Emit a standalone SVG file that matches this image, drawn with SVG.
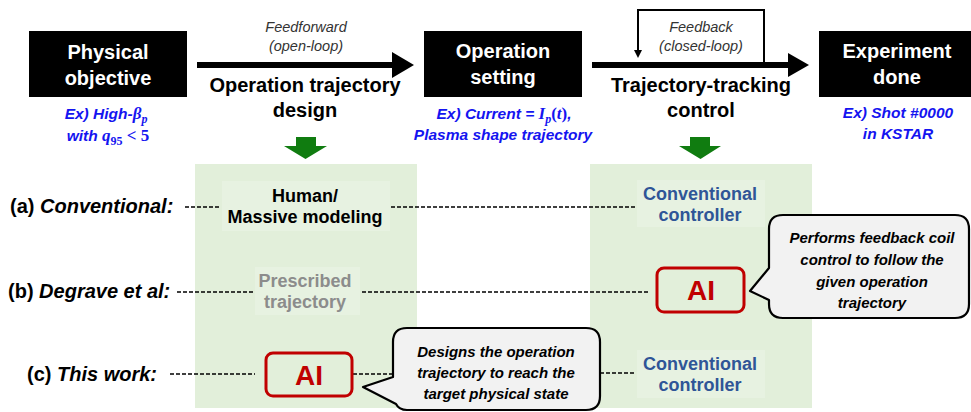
<svg xmlns="http://www.w3.org/2000/svg" width="971" height="412" viewBox="0 0 971 412">
<style>
.box{fill:#000}
.bt{font-family:"Liberation Sans",Arial,sans-serif;font-weight:bold;font-size:20px;fill:#fff;text-anchor:middle}
.h{font-family:"Liberation Sans",Arial,sans-serif;font-weight:bold;font-size:20px;fill:#000;text-anchor:middle}
.fi{font-family:"Liberation Sans",Arial,sans-serif;font-style:italic;font-size:14.5px;fill:#333;text-anchor:middle}
.ex{font-family:"Liberation Sans",Arial,sans-serif;font-style:italic;font-weight:bold;font-size:15.5px;fill:#1414f0;text-anchor:middle}
.m{font-family:"Liberation Serif","Times New Roman",serif;font-weight:bold;font-size:17px}
.s{font-family:"Liberation Serif","Times New Roman",serif;font-weight:bold;font-size:12px}
.n{font-style:normal}
.lab{font-family:"Liberation Sans",Arial,sans-serif;font-weight:bold;font-size:20px;fill:#000}
.pt{font-family:"Liberation Sans",Arial,sans-serif;font-weight:bold;font-size:18px;text-anchor:middle}
.ai{font-family:"Liberation Sans",Arial,sans-serif;font-weight:bold;font-size:28px;fill:#c00000;text-anchor:middle}
.aib{fill:none;stroke:#c00000;stroke-width:3}
.bub{fill:#f2f2f2;stroke:#000;stroke-width:2.2;stroke-linejoin:round}
.bu{font-family:"Liberation Sans",Arial,sans-serif;font-style:italic;font-weight:bold;font-size:15px;fill:#000;text-anchor:middle}
.dash{stroke:#000;stroke-width:1.4;stroke-dasharray:4 2;fill:none}
.panel{fill:#e2efda}
.tbg{fill:#e7f2e1}
.ga{fill:#107c10}
</style>

<g id="panels">
<rect class="panel" x="195" y="164" width="222" height="244"/>
<rect class="panel" x="590" y="164" width="222" height="244"/>
</g>

<g id="connectors">
<line x1="197" y1="65" x2="394" y2="65" stroke="#000" stroke-width="6"/>
<polygon points="392,52 414,65 392,78" fill="#000"/>
<line x1="592" y1="65" x2="790" y2="65" stroke="#000" stroke-width="6"/>
<polygon points="788,53 809,65 788,77" fill="#000"/>
<polyline points="764,62 764,10 638,10 638,51" fill="none" stroke="#000" stroke-width="2"/>
<polygon points="634,50 642,50 638,58" fill="#000"/>
<polygon class="ga" points="296,137 316,137 316,146 327,146 305.5,159 284,146 296,146"/>
<polygon class="ga" points="690,137 710,137 710,146 721,146 700.5,159 679,146 690,146"/>
<line class="dash" x1="185" y1="207" x2="221" y2="207"/>
<line class="dash" x1="391" y1="207" x2="636" y2="207"/>
<line class="dash" x1="177" y1="292" x2="254" y2="292"/>
<line class="dash" x1="362" y1="292" x2="648" y2="292"/>
<line class="dash" x1="170" y1="374" x2="255" y2="374"/>
<line class="dash" x1="353" y1="374" x2="393" y2="374"/>
<line class="dash" x1="600" y1="373" x2="636" y2="373"/>
</g>

<g id="flow-labels">
<text class="fi" x="306" y="32">Feedforward</text>
<text class="fi" x="306" y="51">(open-loop)</text>
<text class="h" x="305" y="92">Operation trajectory</text>
<text class="h" x="305" y="117">design</text>
<text class="fi" x="701" y="32">Feedback</text>
<text class="fi" x="701" y="51">(closed-loop)</text>
<text class="h" x="701" y="92">Trajectory-tracking</text>
<text class="h" x="701" y="117">control</text>
</g>

<g id="physical-objective">
<rect class="box" x="29" y="31" width="158" height="66"/>
<text class="bt" x="108" y="59">Physical</text>
<text class="bt" x="108" y="85">objective</text>
<text class="ex" x="106" y="119">Ex) High-<tspan class="m">β</tspan><tspan class="s" dy="4">p</tspan></text>
<text class="ex" x="108" y="141">with <tspan class="m">q</tspan><tspan class="s n" dy="4">95</tspan><tspan class="m n" dy="-4"> &lt; 5</tspan></text>
</g>

<g id="operation-setting">
<rect class="box" x="424" y="31" width="158" height="66"/>
<text class="bt" x="503" y="58">Operation</text>
<text class="bt" x="503" y="84">setting</text>
<text class="ex" x="504" y="119">Ex) Current = <tspan class="m">I</tspan><tspan class="s" dy="4">p</tspan><tspan class="m n" dy="-4">(</tspan><tspan class="m">t</tspan><tspan class="m n">)</tspan>,</text>
<text class="ex" x="503" y="140">Plasma shape trajectory</text>
</g>

<g id="experiment-done">
<rect class="box" x="819" y="31" width="152" height="66"/>
<text class="bt" x="897" y="58">Experiment</text>
<text class="bt" x="897" y="84">done</text>
<text class="ex" x="898" y="118">Ex) Shot #0000</text>
<text class="ex" x="898" y="139">in KSTAR</text>
</g>

<g id="row-a">
<text class="lab" x="10" y="213">(a)  <tspan font-style="italic">Conventional:</tspan></text>
<rect class="tbg" x="222" y="181" width="168" height="50"/>
<text class="pt" x="305" y="202" fill="#000">Human/</text>
<text class="pt" x="305" y="223" fill="#000">Massive modeling</text>
<rect class="tbg" x="637" y="180" width="128" height="47"/>
<text class="pt" x="700" y="200" fill="#2f5597">Conventional</text>
<text class="pt" x="700" y="221" fill="#2f5597">controller</text>
</g>

<g id="row-b">
<text class="lab" x="8" y="298">(b)  <tspan font-style="italic">Degrave et al:</tspan></text>
<rect class="tbg" x="255" y="267" width="105" height="48"/>
<text class="pt" x="305" y="287" fill="#8c8c8c">Prescribed</text>
<text class="pt" x="305" y="308" fill="#8c8c8c">trajectory</text>
<rect class="aib" x="657" y="268" width="87" height="44" rx="7"/>
<text class="ai" x="701" y="300">AI</text>
</g>

<g id="row-c">
<text class="lab" x="27" y="381">(c)  <tspan font-style="italic">This work:</tspan></text>
<rect class="aib" x="266" y="353" width="86" height="43" rx="7"/>
<text class="ai" x="309" y="385">AI</text>
<rect class="tbg" x="637" y="350" width="128" height="48"/>
<text class="pt" x="700" y="370" fill="#2f5597">Conventional</text>
<text class="pt" x="700" y="391" fill="#2f5597">controller</text>
</g>

<g id="bubble-ai-controller">
<path class="bub" d="M783 215 H955 Q969 215 969 229 V304 Q969 318 955 318 H783 Q769 318 769 304 V300 L750 291 L769 268 V229 Q769 215 783 215 Z"/>
<text class="bu" x="872" y="243">Performs feedback coil</text>
<text class="bu" x="872" y="265">control to follow the</text>
<text class="bu" x="872" y="287">given operation</text>
<text class="bu" x="872" y="308">trajectory</text>
</g>

<g id="bubble-ai-design">
<path class="bub" d="M407 328 H586 Q600 328 600 342 V396 Q600 410 586 410 H407 Q399 410 396 404 L363 387 L393 377 V342 Q393 328 407 328 Z"/>
<text class="bu" x="496" y="357">Designs the operation</text>
<text class="bu" x="496" y="378">trajectory to reach the</text>
<text class="bu" x="496" y="399">target physical state</text>
</g>
</svg>
